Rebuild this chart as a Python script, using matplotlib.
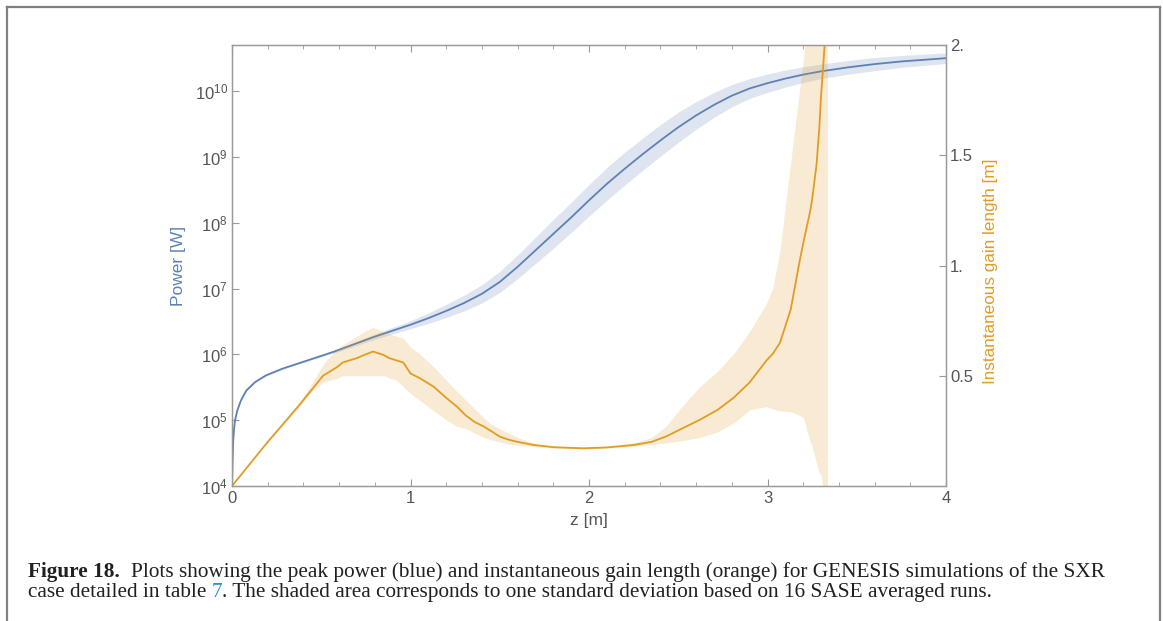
import numpy as np
import matplotlib.pyplot as plt
from matplotlib.lines import Line2D
from matplotlib.ticker import MultipleLocator, NullLocator

plt.rcParams['font.family'] = ['Liberation Sans', 'DejaVu Sans']
plt.rcParams['mathtext.fontset'] = 'custom'
plt.rcParams['mathtext.rm'] = 'Liberation Sans'

# peak power (blue), log10 of W
z_pow = [0, 0.003, 0.007, 0.012, 0.017, 0.03, 0.05, 0.08, 0.13, 0.19, 0.28, 0.38,
         0.47, 0.57, 0.68, 0.79, 0.9, 1.0, 1.1, 1.2, 1.3, 1.4, 1.5, 1.6, 1.7,
         1.8, 1.9, 2.0, 2.1, 2.2, 2.3, 2.4, 2.5, 2.6, 2.7, 2.8, 2.9, 3.0,
         3.1, 3.2, 3.3, 3.45, 3.6, 3.75, 3.9, 4.0]
log_pow = [4.0, 4.35, 4.7, 4.88, 5.0, 5.15, 5.3, 5.45, 5.58, 5.68, 5.78, 5.87,
           5.95, 6.04, 6.15, 6.26, 6.36, 6.45, 6.55, 6.66, 6.78, 6.92, 7.10, 7.33, 7.58,
           7.83, 8.08, 8.34, 8.59, 8.82, 9.04, 9.25, 9.45, 9.63, 9.79, 9.93, 10.04, 10.12,
           10.19, 10.25, 10.30, 10.36, 10.41, 10.45, 10.48, 10.50]
# one standard deviation, in decades
pow_sd = [0.0, 0.01, 0.01, 0.01, 0.01, 0.01, 0.01, 0.01, 0.01, 0.01, 0.01, 0.01,
          0.015, 0.02, 0.03, 0.04, 0.05, 0.06, 0.08, 0.10, 0.12, 0.14, 0.16, 0.18, 0.20,
          0.22, 0.23, 0.24, 0.25, 0.25, 0.245, 0.24, 0.23, 0.21, 0.19, 0.17, 0.15, 0.14,
          0.13, 0.12, 0.11, 0.105, 0.10, 0.09, 0.085, 0.08]

# instantaneous gain length (orange) [m]
z_gain = [0, 0.19, 0.38, 0.45, 0.51, 0.55, 0.59, 0.62, 0.66, 0.70, 0.74, 0.79,
          0.85, 0.88, 0.92, 0.96, 1.0, 1.05, 1.13, 1.2, 1.26, 1.31, 1.36, 1.41,
          1.45, 1.5, 1.55, 1.6, 1.69, 1.8, 1.97, 2.1, 2.25, 2.35, 2.43, 2.52, 2.62,
          2.72, 2.81, 2.9, 2.995, 3.03, 3.07, 3.13, 3.18, 3.20, 3.24, 3.25, 3.275,
          3.29, 3.30, 3.31, 3.32, 3.336]
gain = [0, 0.19, 0.37, 0.44, 0.50, 0.52, 0.54, 0.56, 0.57, 0.58, 0.594, 0.61,
        0.594, 0.58, 0.57, 0.56, 0.51, 0.49, 0.45, 0.40, 0.36, 0.32, 0.29, 0.27,
        0.25, 0.224, 0.21, 0.20, 0.186, 0.176, 0.171, 0.175, 0.186, 0.20, 0.224, 0.26, 0.30,
        0.345, 0.40, 0.47, 0.57, 0.60, 0.65, 0.80, 1.02, 1.10, 1.25, 1.30, 1.46,
        1.62, 1.77, 1.88, 2.0, 2.3]
gain_hi = [0, 0.19, 0.38, 0.47, 0.55, 0.59, 0.62, 0.64, 0.66, 0.68, 0.70, 0.72,
           0.70, 0.69, 0.68, 0.67, 0.63, 0.60, 0.54, 0.48, 0.43, 0.39, 0.35, 0.31,
           0.28, 0.26, 0.24, 0.22, 0.195, 0.18, 0.174, 0.178, 0.195, 0.22, 0.27, 0.36, 0.45,
           0.52, 0.60, 0.70, 0.83, 0.90, 1.07, 1.47, 1.80, 1.93, 2.2, 2.3, 2.5,
           2.5, 2.5, 2.5, 2.5, 2.5]
gain_lo = [0, 0.19, 0.36, 0.43, 0.47, 0.48, 0.49, 0.50, 0.50, 0.50, 0.50, 0.50,
           0.50, 0.49, 0.48, 0.45, 0.42, 0.39, 0.34, 0.30, 0.27, 0.26, 0.24, 0.22,
           0.21, 0.20, 0.19, 0.185, 0.178, 0.172, 0.168, 0.172, 0.18, 0.188, 0.195, 0.205, 0.22,
           0.245, 0.285, 0.345, 0.36, 0.35, 0.34, 0.337, 0.32, 0.31, 0.20, 0.18, 0.10,
           0.06, 0.05, 0.0, 0.0, 0.0]

pow_ticks = [4, 5, 6, 7, 8, 9, 10]
gain_ticks = [0.5, 1.0, 1.5, 2.0]
gain_tick_labels = ['0.5', '1.', '1.5', '2.']

blue = '#5E81B5'
orange = '#E19C24'
grey = '#999999'
txt = '#555555'

W, H = 1163, 621
fig = plt.figure(figsize=(W / 100, H / 100), dpi=100)
ax = fig.add_axes([232 / W, 1 - 486 / H, (946 - 232) / W, (486 - 45) / H])

lp = np.array(log_pow)
sd = np.array(pow_sd)
ax.fill_between(z_pow, 10 ** (lp - sd), 10 ** (lp + sd), color=blue, alpha=0.2, lw=0)
ax.plot(z_pow, 10 ** lp, color=blue, lw=1.3)
ax.set_yscale('log')
ax.set_xlim(0, 4)
ax.set_ylim(1e4, 10 ** 10.7)
ax.set_yticks([10.0 ** p for p in pow_ticks])
ax.set_yticklabels([r'$\mathregular{10^{%d}}$' % p for p in pow_ticks])
ax.yaxis.set_minor_locator(NullLocator())
ax.set_xticks([0, 1, 2, 3, 4])
ax.set_xticklabels(['0', '1', '2', '3', '4'])
ax.xaxis.set_minor_locator(MultipleLocator(0.2))
ax.tick_params(which='both', direction='in', top=True, right=False, color=grey,
               labelcolor=txt, labelsize=12)
ax.tick_params(which='major', length=5, width=0.8)
ax.tick_params(which='minor', length=3, width=0.6)
ax.tick_params(axis='y', pad=3)

ax2 = ax.twinx()
ax2.fill_between(z_gain, gain_lo, gain_hi, color=orange, alpha=0.2, lw=0)
ax2.plot(z_gain, gain, color=orange, lw=1.3)
ax2.set_ylim(0, 2)
ax2.set_yticks(gain_ticks)
ax2.set_yticklabels(gain_tick_labels)
ax2.tick_params(direction='in', length=5, width=0.8, color=grey, labelcolor=txt,
                labelsize=12, pad=3)

for a in (ax, ax2):
    for s in a.spines.values():
        s.set_color(grey)
        s.set_linewidth(0.9)

fig.text(178 / W, 1 - 266 / H, 'Power [W]', rotation=90, ha='center', va='center',
         color=blue, fontsize=12.5)
fig.text(990 / W, 1 - 271 / H, 'Instantaneous gain length [m]', rotation=90,
         ha='center', va='center', color=orange, fontsize=12.3)
fig.text(589 / W, 1 - 521 / H, 'z [m]', ha='center', va='center', color=txt, fontsize=12.5)

# page frame
frame = dict(color='#808080', lw=1.6, transform=fig.transFigure)
fig.add_artist(Line2D([7 / W, 1160 / W], [1 - 7 / H, 1 - 7 / H], **frame))
fig.add_artist(Line2D([7 / W, 7 / W], [0, 1 - 7 / H], **frame))
fig.add_artist(Line2D([1160 / W, 1160 / W], [0, 1 - 7 / H], **frame))

# caption: size the font so line one runs from x=28 to x=1100
renderer = fig.canvas.get_renderer()
cap = dict(family=['Liberation Serif', 'DejaVu Serif'], va='baseline', color='#231F20')
line1 = ('Plots showing the peak power (blue) and instantaneous gain length (orange) '
         'for GENESIS simulations of the SXR')
tb = fig.text(28 / W, 1 - 577 / H, 'Figure 18.', fontsize=13, weight='bold', **cap)
t1 = fig.text(0, 1 - 577 / H, line1, fontsize=13, **cap)
wb = tb.get_window_extent(renderer).width
w1 = t1.get_window_extent(renderer).width
gap = 12
fs = 13 * (1100 - 28 - gap) / (wb + w1)
tb.set_fontsize(fs)
t1.set_fontsize(fs)
t1.set_x((28 + wb * fs / 13 + gap) / W)

part_a = 'case detailed in table'
fig.text(28 / W, 1 - 597 / H, part_a, fontsize=fs, **cap)
probe = fig.text(0, 0, part_a + ' 7', fontsize=fs, **cap)
seven = fig.text(0, 0, '7', fontsize=fs, **cap)
w_full = probe.get_window_extent(renderer).width
w7 = seven.get_window_extent(renderer).width
probe.remove()
seven.remove()
x7 = 28 + w_full - w7
cap7 = dict(cap)
cap7['color'] = '#2C8FD6'
fig.text(x7 / W, 1 - 597 / H, '7', fontsize=fs, **cap7)
fig.text((x7 + w7) / W, 1 - 597 / H,
         '. The shaded area corresponds to one standard deviation based on 16 SASE averaged runs.',
         fontsize=fs, **cap)

fig.savefig('out.png', dpi=100)
